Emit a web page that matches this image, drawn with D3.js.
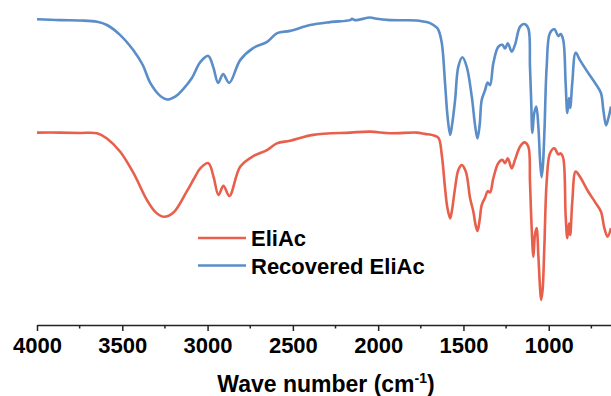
<!DOCTYPE html>
<html>
<head>
<meta charset="utf-8">
<script src="https://cdn.jsdelivr.net/npm/d3@7"></script>
<style>
html,body{margin:0;padding:0;background:#fff;}
svg{display:block;}
text{font-family:"Liberation Sans",Arial,sans-serif;font-weight:bold;fill:#000;}
</style>
</head>
<body>
<svg id="chart" width="611" height="396"></svg>
<script>
// Wavenumbers (cm-1) and transmittance (a.u.)
const recoveredWn = [4000,3864,3746,3648,3590,3512,3436,3380,3336,3278,3238,3190,3143,3092,3043,2996,2967,2938,2909,2873,2809,2733,2651,2592,2516,2399,2282,2164,2153,2135,2047,2018,1930,1772,1725,1696,1656,1647,1627,1608,1594,1578,1567,1549,1530,1506,1481,1451,1432,1418,1405,1393,1373,1358,1344,1325,1296,1272,1256,1240,1217,1198,1168,1143,1120,1110,1103,1096,1085,1073,1061,1051,1042,1034,1025,1012,993,967,944,930,915,901,891,881,874,862,842,817,768,729,694,680,664,650,635];
const recoveredT  = [94.1,93.8,93.7,93.3,92.3,89.2,84.6,80.0,74.5,70.5,69.4,70.3,72.6,76.0,80.9,82.8,79.4,74.5,77.2,74.5,81.5,85.2,87.1,89.8,90.5,92.3,93.2,93.8,94.2,93.8,94.6,94.3,93.8,93.7,93.3,92.9,91.5,90.8,86.8,74.5,64.6,58.5,61.5,69.2,79.5,82.4,79.5,70.2,61.5,57.4,61.5,69.2,72.3,74.6,73.8,80.5,85.6,86.2,85.1,86.7,84.1,86.2,91.8,92.6,91.3,79.5,69.2,59.1,65.2,67.2,61.2,50.8,45.5,49.2,60.0,79.5,89.8,91.0,88.9,89.5,87.7,74.5,65.2,69.8,66.8,74.5,83.8,81.5,77.5,74.5,71.4,66.2,61.5,63.7,67.2];

const eliacWn = [4000,3864,3746,3648,3590,3512,3434,3356,3307,3258,3200,3121,3080,3043,2995,2965,2936,2907,2872,2809,2731,2652,2594,2516,2381,2164,2047,1930,1774,1725,1686,1647,1627,1608,1594,1578,1567,1549,1530,1510,1486,1461,1442,1429,1418,1405,1393,1373,1358,1344,1325,1296,1272,1256,1240,1217,1198,1168,1143,1120,1110,1102,1090,1081,1071,1061,1052,1045,1036,1026,1012,993,967,944,930,915,901,891,881,874,862,842,817,768,729,694,674,655,635];
const eliacT  = [59.2,59.2,59.1,59.0,57.4,53.3,46.7,38.5,34.8,33.3,34.6,41.2,45.0,48.2,49.8,45.6,40.0,42.8,39.7,48.7,52.0,53.8,55.9,56.7,58.5,59.2,59.5,59.0,59.2,58.8,58.5,57.6,52.3,42.2,36.0,32.8,35.4,42.2,47.7,49.2,47.2,39.0,34.9,30.8,28.9,32.3,36.9,39.2,41.2,40.8,45.1,49.8,50.8,49.8,51.3,48.2,50.8,54.9,56.2,54.9,44.1,32.3,21.0,27.7,29.8,21.5,12.3,7.7,10.8,23.7,44.1,52.8,54.4,52.5,52.8,51.3,33.8,26.7,31.3,27.7,37.9,47.2,45.6,41.0,37.9,34.9,29.8,27.2,29.8];

const majorTicks = [4000,3500,3000,2500,2000,1500,1000];
const minorTicks = [3750,3250,2750,2250,1750,1250,750];
const seriesNames = ["EliAc","Recovered EliAc"];
const seriesColors = ["#E8604C","#5B8DC8"];

const svg = d3.select("#chart");
const x = d3.scaleLinear().domain([4000,635]).range([37,611]);
const y = d3.scaleLinear().domain([0,100]).range([325,0]);

const line = d3.line().x(d=>x(d[0])).y(d=>y(d[1])).curve(d3.curveCatmullRom.alpha(0.5));
const series = [
  {name:seriesNames[0], color:seriesColors[0], pts:eliacWn.map((w,i)=>[w,eliacT[i]])},
  {name:seriesNames[1], color:seriesColors[1], pts:recoveredWn.map((w,i)=>[w,recoveredT[i]])}
];
series.forEach(s=>{
  svg.append("path").datum(s.pts).attr("d",line)
    .attr("fill","none").attr("stroke",s.color).attr("stroke-width",2.6)
    .attr("stroke-linejoin","round");
});

// axis
const axisG = svg.append("g").attr("transform","translate(0,325)");
axisG.call(d3.axisBottom(x).tickValues(majorTicks).tickSize(6).tickSizeOuter(0).tickFormat(d3.format("d")));
axisG.select(".domain").attr("stroke","#222").attr("stroke-width",1.5);
axisG.selectAll(".tick line").attr("stroke","#222").attr("stroke-width",1.5);
axisG.selectAll(".tick text").attr("y",7).attr("dy","0.95em")
  .style("font-family","'Liberation Sans',Arial,sans-serif").style("font-weight","bold").style("font-size","22px").attr("fill","#000");
const minorG = svg.append("g").attr("transform","translate(0,325)");
minorG.selectAll("line").data(minorTicks).enter().append("line")
  .attr("x1",d=>x(d)).attr("x2",d=>x(d)).attr("y1",0).attr("y2",3.5)
  .attr("stroke","#222").attr("stroke-width",1.5);

// x title
const title = svg.append("text").attr("x",326).attr("y",392).attr("text-anchor","middle").style("font-size","23px");
title.append("tspan").text("Wave number (cm");
title.append("tspan").attr("dy",-9).style("font-size","14px").text("-1");
title.append("tspan").attr("dy",9).text(")");

// legend
const leg = svg.append("g");
series.forEach((s,i)=>{
  const yy = 238 + i*27.5;
  leg.append("line").attr("x1",198).attr("x2",246).attr("y1",yy).attr("y2",yy)
    .attr("stroke",s.color).attr("stroke-width",2.6);
  leg.append("text").attr("x",251).attr("y",yy+8).style("font-size","22px").text(s.name);
});
</script>
</body>
</html>
